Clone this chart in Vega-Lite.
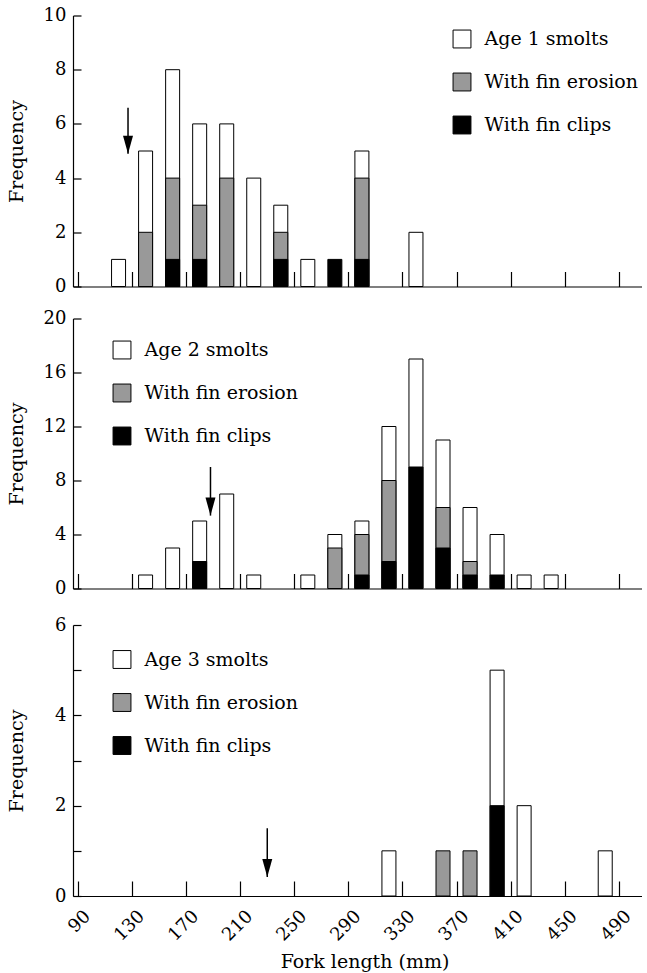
{
  "$schema": "https://vega.github.io/schema/vega-lite/v6.json",
  "padding": {"left": 7, "top": 6.5, "right": 0, "bottom": 0},
  "background": "white",
  "config": {
    "view": {"stroke": null},
    "font": "DejaVu Serif",
    "axis": {"labelFont": "DejaVu Serif", "titleFont": "DejaVu Serif", "labelColor": "black", "titleColor": "black", "domainColor": "black", "tickColor": "black", "labelFontSize": 18, "titleFontSize": 19, "titleFontWeight": "normal", "grid": false, "domainWidth": 1.2, "tickWidth": 1.2},
    "legend": {"orient": "none", "symbolType": "square", "symbolSize": 320, "symbolStrokeColor": "black", "symbolStrokeWidth": 1, "labelFont": "DejaVu Serif", "labelFontSize": 19, "labelColor": "black", "rowPadding": 20, "labelOffset": 13, "padding": 0, "labelLimit": 300}
  },
  "datasets": {
    "age1": [
      {"len": 120, "cat": "Age 1 smolts", "n": 1},
      {"len": 140, "cat": "Age 1 smolts", "n": 5},
      {"len": 140, "cat": "With fin erosion", "n": 2},
      {"len": 160, "cat": "Age 1 smolts", "n": 8},
      {"len": 160, "cat": "With fin erosion", "n": 4},
      {"len": 160, "cat": "With fin clips", "n": 1},
      {"len": 180, "cat": "Age 1 smolts", "n": 6},
      {"len": 180, "cat": "With fin erosion", "n": 3},
      {"len": 180, "cat": "With fin clips", "n": 1},
      {"len": 200, "cat": "Age 1 smolts", "n": 6},
      {"len": 200, "cat": "With fin erosion", "n": 4},
      {"len": 220, "cat": "Age 1 smolts", "n": 4},
      {"len": 240, "cat": "Age 1 smolts", "n": 3},
      {"len": 240, "cat": "With fin erosion", "n": 2},
      {"len": 240, "cat": "With fin clips", "n": 1},
      {"len": 260, "cat": "Age 1 smolts", "n": 1},
      {"len": 280, "cat": "With fin clips", "n": 1},
      {"len": 300, "cat": "Age 1 smolts", "n": 5},
      {"len": 300, "cat": "With fin erosion", "n": 4},
      {"len": 300, "cat": "With fin clips", "n": 1},
      {"len": 340, "cat": "Age 1 smolts", "n": 2}
    ],
    "age2": [
      {"len": 140, "cat": "Age 2 smolts", "n": 1},
      {"len": 160, "cat": "Age 2 smolts", "n": 3},
      {"len": 180, "cat": "Age 2 smolts", "n": 5},
      {"len": 180, "cat": "With fin clips", "n": 2},
      {"len": 200, "cat": "Age 2 smolts", "n": 7},
      {"len": 220, "cat": "Age 2 smolts", "n": 1},
      {"len": 260, "cat": "Age 2 smolts", "n": 1},
      {"len": 280, "cat": "Age 2 smolts", "n": 4},
      {"len": 280, "cat": "With fin erosion", "n": 3},
      {"len": 300, "cat": "Age 2 smolts", "n": 5},
      {"len": 300, "cat": "With fin erosion", "n": 4},
      {"len": 300, "cat": "With fin clips", "n": 1},
      {"len": 320, "cat": "Age 2 smolts", "n": 12},
      {"len": 320, "cat": "With fin erosion", "n": 8},
      {"len": 320, "cat": "With fin clips", "n": 2},
      {"len": 340, "cat": "Age 2 smolts", "n": 17},
      {"len": 340, "cat": "With fin clips", "n": 9},
      {"len": 360, "cat": "Age 2 smolts", "n": 11},
      {"len": 360, "cat": "With fin erosion", "n": 6},
      {"len": 360, "cat": "With fin clips", "n": 3},
      {"len": 380, "cat": "Age 2 smolts", "n": 6},
      {"len": 380, "cat": "With fin erosion", "n": 2},
      {"len": 380, "cat": "With fin clips", "n": 1},
      {"len": 400, "cat": "Age 2 smolts", "n": 4},
      {"len": 400, "cat": "With fin clips", "n": 1},
      {"len": 420, "cat": "Age 2 smolts", "n": 1},
      {"len": 440, "cat": "Age 2 smolts", "n": 1}
    ],
    "age3": [
      {"len": 320, "cat": "Age 3 smolts", "n": 1},
      {"len": 360, "cat": "With fin erosion", "n": 1},
      {"len": 380, "cat": "With fin erosion", "n": 1},
      {"len": 400, "cat": "Age 3 smolts", "n": 5},
      {"len": 400, "cat": "With fin clips", "n": 2},
      {"len": 420, "cat": "Age 3 smolts", "n": 2},
      {"len": 480, "cat": "Age 3 smolts", "n": 1}
    ],
    "arrow1": [{"ax": 127, "top": 6.6, "tip": 4.9}],
    "arrow2": [{"ax": 188, "top": 9.0, "tip": 5.4}],
    "arrow3": [{"ax": 230, "top": 1.5, "tip": 0.42}]
  },
  "spacing": 18.5,
  "resolve": {"scale": {"x": "independent", "y": "independent", "fill": "independent"}, "legend": {"fill": "independent"}},
  "vconcat": [
    {
      "bounds": "flush",
      "spacing": 32,
      "resolve": {"scale": {"x": "independent", "y": "independent", "fill": "independent"}, "legend": {"fill": "independent"}},
      "vconcat": [
        {
          "width": 569,
          "height": 271,
          "layer": [
            {
              "data": {"name": "age1"},
              "mark": {"type": "bar", "size": 14, "stroke": "black", "strokeWidth": 1},
              "encoding": {
                "x": {"field": "len", "type": "quantitative", "scale": {"domain": [90, 503.5], "nice": false, "zero": false},
                  "axis": {"values": [90,110,130,150,170,190,210,230,250,270,290,310,330,350,370,390,410,430,450,470,490], "labels": false, "title": null, "tickSize": -15}},
                "y": {"field": "n", "type": "quantitative", "stack": null, "scale": {"domain": [0, 10], "nice": false},
                  "axis": {"values": [0,1,2,3,4,5,6,7,8,9,10], "labelExpr": "datum.value % 2 == 0 ? datum.label : ''", "tickSize": -8, "labelPadding": 15, "title": "Frequency", "titleX": -50.5, "titleY": 135.5, "titleBaseline": "alphabetic"}},
                "fill": {"field": "cat", "type": "nominal", "scale": {"domain": ["Age 1 smolts", "With fin erosion", "With fin clips"], "range": ["white", "#999999", "black"]},
                  "legend": {"title": null, "legendX": 379.5, "legendY": 14}}
              }
            },
            {
              "data": {"name": "arrow1"},
              "mark": {"type": "rule", "color": "black", "strokeWidth": 1.5},
              "encoding": {"x": {"field": "ax", "type": "quantitative"}, "y": {"field": "top", "type": "quantitative"}, "y2": {"field": "tip"}}
            },
            {
              "data": {"name": "arrow1"},
              "mark": {"type": "point", "shape": "M-1,-3.6L1,-3.6L0,0Z", "filled": true, "fill": "black", "opacity": 1, "size": 100, "strokeWidth": 0},
              "encoding": {"x": {"field": "ax", "type": "quantitative"}, "y": {"field": "tip", "type": "quantitative"}}
            },
            {
              "mark": {"type": "rule", "color": "black", "strokeWidth": 1.2},
              "encoding": {"y": {"datum": 10}}
            }
          ]
        },
        {
          "width": 569,
          "height": 270,
          "layer": [
            {
              "data": {"name": "age2"},
              "mark": {"type": "bar", "size": 14, "stroke": "black", "strokeWidth": 1},
              "encoding": {
                "x": {"field": "len", "type": "quantitative", "scale": {"domain": [90, 503.5], "nice": false, "zero": false},
                  "axis": {"values": [90,110,130,150,170,190,210,230,250,270,290,310,330,350,370,390,410,430,450,470,490], "labels": false, "title": null, "tickSize": -15}},
                "y": {"field": "n", "type": "quantitative", "stack": null, "scale": {"domain": [0, 20], "nice": false},
                  "axis": {"values": [0,2,4,6,8,10,12,14,16,18,20], "labelExpr": "datum.value % 4 == 0 ? datum.label : ''", "tickSize": -8, "labelPadding": 15, "title": "Frequency", "titleX": -50.5, "titleY": 135, "titleBaseline": "alphabetic"}},
                "fill": {"field": "cat", "type": "nominal", "scale": {"domain": ["Age 2 smolts", "With fin erosion", "With fin clips"], "range": ["white", "#999999", "black"]},
                  "legend": {"title": null, "legendX": 39.5, "legendY": 22}}
              }
            },
            {
              "data": {"name": "arrow2"},
              "mark": {"type": "rule", "color": "black", "strokeWidth": 1.5},
              "encoding": {"x": {"field": "ax", "type": "quantitative"}, "y": {"field": "top", "type": "quantitative"}, "y2": {"field": "tip"}}
            },
            {
              "data": {"name": "arrow2"},
              "mark": {"type": "point", "shape": "M-1,-3.6L1,-3.6L0,0Z", "filled": true, "fill": "black", "opacity": 1, "size": 100, "strokeWidth": 0},
              "encoding": {"x": {"field": "ax", "type": "quantitative"}, "y": {"field": "tip", "type": "quantitative"}}
            },
            {
              "mark": {"type": "rule", "color": "black", "strokeWidth": 1.2},
              "encoding": {"y": {"datum": 20}}
            }
          ]
        }
      ]
    },
    {
      "width": 569,
      "height": 271,
      "layer": [
        {
          "data": {"name": "age3"},
          "mark": {"type": "bar", "size": 14, "stroke": "black", "strokeWidth": 1},
          "encoding": {
            "x": {"field": "len", "type": "quantitative", "scale": {"domain": [90, 503.5], "nice": false, "zero": false},
              "axis": {"values": [90,110,130,150,170,190,210,230,250,270,290,310,330,350,370,390,410,430,450,470,490], "labelExpr": "(datum.value - 90) % 40 == 0 ? datum.label : ''", "labelAngle": -45, "labelAlign": "right", "labelBaseline": "top", "labelOffset": 3, "tickSize": -15, "labelPadding": 26, "title": "Fork length (mm)", "titleX": 291.5, "titleY": 71, "titleBaseline": "alphabetic"}},
            "y": {"field": "n", "type": "quantitative", "stack": null, "scale": {"domain": [0, 6], "nice": false},
              "axis": {"values": [0,1,2,3,4,5,6], "labelExpr": "datum.value % 2 == 0 ? datum.label : ''", "tickSize": -8, "labelPadding": 15, "title": "Frequency", "titleX": -50.5, "titleY": 135.5, "titleBaseline": "alphabetic"}},
            "fill": {"field": "cat", "type": "nominal", "scale": {"domain": ["Age 3 smolts", "With fin erosion", "With fin clips"], "range": ["white", "#999999", "black"]},
              "legend": {"title": null, "legendX": 39.5, "legendY": 25}}
          }
        },
        {
          "data": {"name": "arrow3"},
          "mark": {"type": "rule", "color": "black", "strokeWidth": 1.5},
          "encoding": {"x": {"field": "ax", "type": "quantitative"}, "y": {"field": "top", "type": "quantitative"}, "y2": {"field": "tip"}}
        },
        {
          "data": {"name": "arrow3"},
          "mark": {"type": "point", "shape": "M-1,-3.6L1,-3.6L0,0Z", "filled": true, "fill": "black", "opacity": 1, "size": 100, "strokeWidth": 0},
          "encoding": {"x": {"field": "ax", "type": "quantitative"}, "y": {"field": "tip", "type": "quantitative"}}
        },
        {
          "mark": {"type": "rule", "color": "black", "strokeWidth": 1.2},
          "encoding": {"y": {"datum": 6}}
        }
      ]
    }
  ]
}
